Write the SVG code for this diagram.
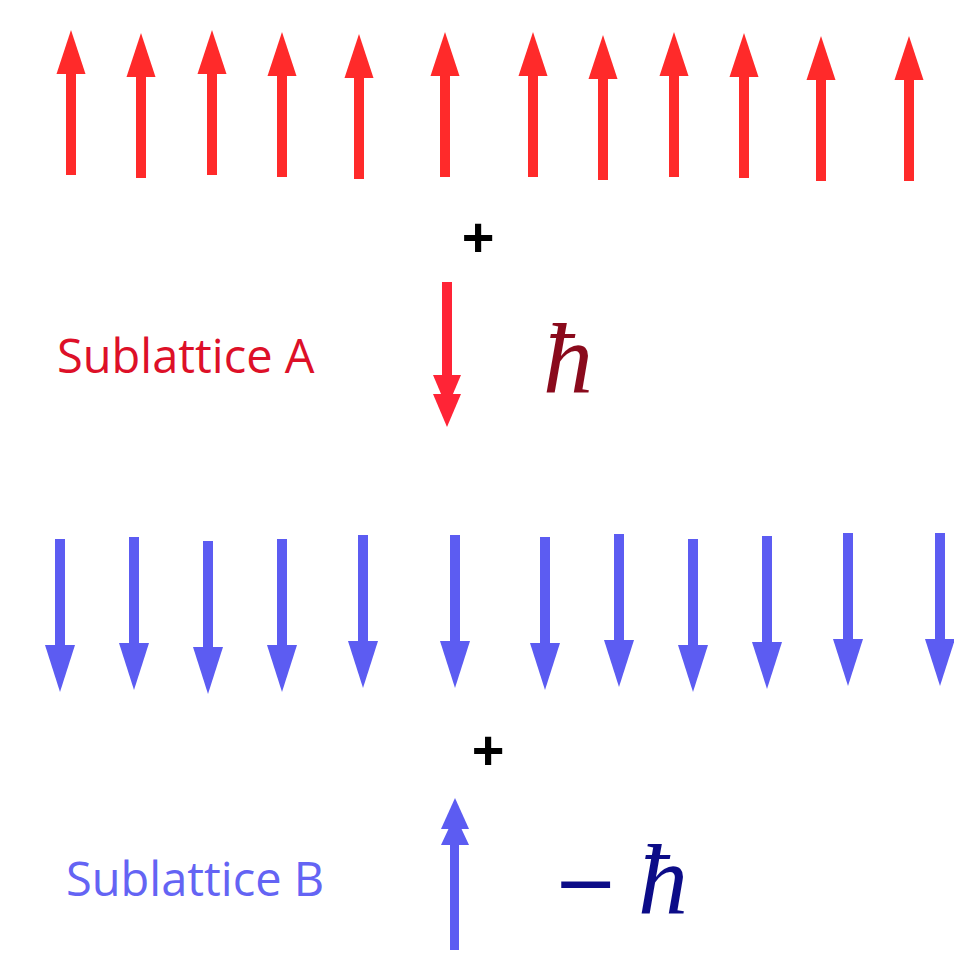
<svg xmlns="http://www.w3.org/2000/svg" xmlns:xlink="http://www.w3.org/1999/xlink" width="954" height="967" viewBox="0 0 954 967">
  <style>
    .red { fill: #ff2a2a; }
    .blue { fill: #5c5cf2; }
    .plus { font-family: "Liberation Sans", Arial, sans-serif; font-size: 56px; font-weight: bold; fill: #000; text-anchor: middle; }
    .label { font-family: "Open Sans", "Noto Sans", sans-serif; font-size: 47px; }
    .hbar { font-family: "Liberation Serif", "Times New Roman", serif; font-style: italic; font-size: 100px; }
    .minus { font-family: "DejaVu Sans", sans-serif; font-size: 78px; }
  </style>
  <defs>
    <g id="upR">
      <rect x="-5" y="40" width="10" height="105"/>
      <polygon points="0,0 -14.5,44 14.5,44"/>
    </g>
    <g id="downB">
      <rect x="-5" y="0" width="10" height="110"/>
      <polygon points="-15,106 15,106 0,153"/>
    </g>
  </defs>
  <rect width="954" height="967" fill="#ffffff"/>

  <g id="sublattice-a-row" class="red">
    <use xlink:href="#upR" x="71" y="30"/>
    <use xlink:href="#upR" x="141" y="33"/>
    <use xlink:href="#upR" x="212" y="30"/>
    <use xlink:href="#upR" x="282" y="32"/>
    <use xlink:href="#upR" x="359" y="34"/>
    <use xlink:href="#upR" x="445" y="32"/>
    <use xlink:href="#upR" x="533" y="32"/>
    <use xlink:href="#upR" x="603" y="35"/>
    <use xlink:href="#upR" x="674" y="32"/>
    <use xlink:href="#upR" x="744" y="33"/>
    <use xlink:href="#upR" x="821" y="36"/>
    <use xlink:href="#upR" x="909" y="36"/>
  </g>

  <text id="plus-a" class="plus" x="478" y="256">+</text>

  <g id="sublattice-a-label">
    <text class="label" x="57" y="373" fill="#dd1028">Sublattice A</text>
  </g>

  <g id="spin-flip-a" fill="#ff2436">
    <rect x="442" y="282" width="10" height="96"/>
    <polygon points="433,375 461,375 447,408"/>
    <polygon points="433,394 461,394 447,427"/>
  </g>

  <text id="hbar-a" class="hbar" x="543" y="392" fill="#8a0a1c">ħ</text>

  <g id="sublattice-b-row" class="blue">
    <use xlink:href="#downB" x="60" y="539"/>
    <use xlink:href="#downB" x="134" y="537"/>
    <use xlink:href="#downB" x="208" y="541"/>
    <use xlink:href="#downB" x="282" y="539"/>
    <use xlink:href="#downB" x="363" y="535"/>
    <use xlink:href="#downB" x="455" y="535"/>
    <use xlink:href="#downB" x="545" y="537"/>
    <use xlink:href="#downB" x="619" y="534"/>
    <use xlink:href="#downB" x="693" y="539"/>
    <use xlink:href="#downB" x="767" y="536"/>
    <use xlink:href="#downB" x="848" y="533"/>
    <use xlink:href="#downB" x="940" y="533"/>
  </g>

  <text id="plus-b" class="plus" x="488" y="769">+</text>

  <g id="sublattice-b-label">
    <text class="label" x="66" y="896" fill="#6464f4">Sublattice B</text>
  </g>

  <g id="spin-flip-b" class="blue">
    <rect x="450" y="840" width="9" height="110"/>
    <polygon points="441,845 469,845 455,815"/>
    <polygon points="441,829 469,829 455,798"/>
  </g>

  <g id="minus-hbar-b" fill="#0c0c88">
    <text class="minus" x="553" y="909">−</text>
    <text class="hbar" x="638" y="913" font-size="104">ħ</text>
  </g>
</svg>
